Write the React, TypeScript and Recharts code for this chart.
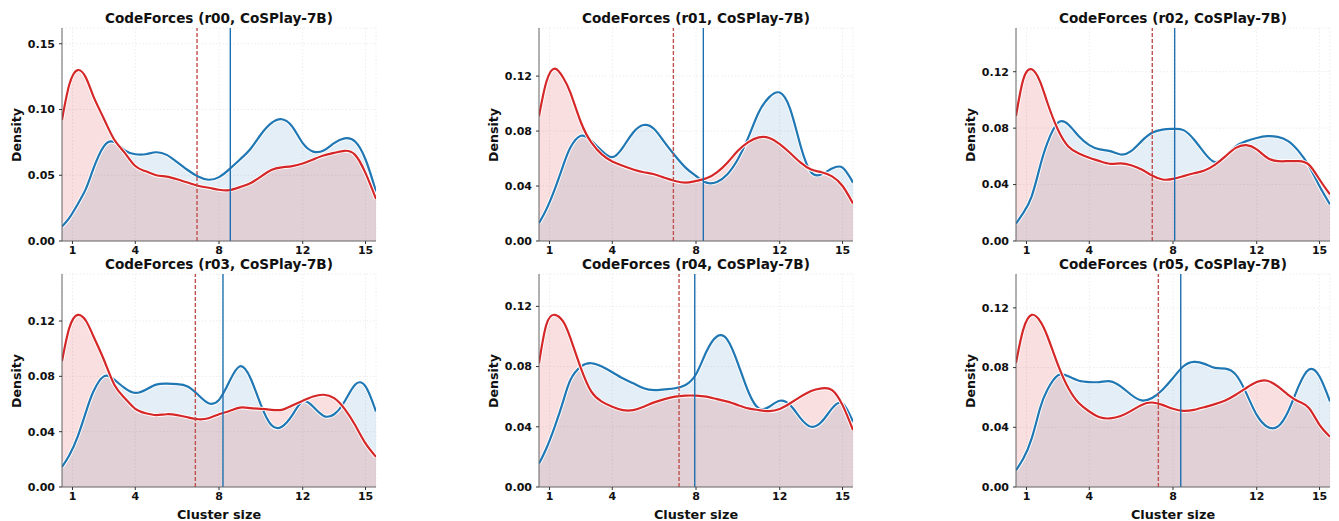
import React from 'react';
import { ComposedChart, Area, Line, XAxis, YAxis, CartesianGrid, ReferenceLine } from 'recharts';

// cluster sizes where each KDE curve is sampled
const sizes = [
  0.5, 0.85, 1.25, 1.65, 2, 2.5, 3, 3.5, 4, 4.5, 5, 5.5, 6, 6.5, 7, 7.5,
  8, 8.5, 9, 9.5, 10, 10.5, 11, 11.5, 12, 12.5, 13, 13.5, 14, 14.5, 15, 15.5,
];
const xTicks = [1, 4, 8, 12, 15];

const runIds = ['r00', 'r01', 'r02', 'r03', 'r04', 'r05'];

const blueR00 = [0.011, 0.0175, 0.028, 0.04, 0.055, 0.072, 0.0752, 0.069, 0.066, 0.066, 0.0675, 0.0655, 0.06, 0.054, 0.049, 0.0466, 0.0486, 0.0547, 0.062, 0.07, 0.081, 0.0896, 0.0926, 0.087, 0.0744, 0.068, 0.0688, 0.0744, 0.078, 0.0757, 0.062, 0.0377];
const redR00 = [0.092, 0.119, 0.13, 0.124, 0.11, 0.093, 0.077, 0.067, 0.057, 0.053, 0.05, 0.049, 0.047, 0.0445, 0.042, 0.0405, 0.039, 0.0387, 0.041, 0.044, 0.049, 0.054, 0.056, 0.057, 0.059, 0.062, 0.065, 0.067, 0.0686, 0.0655, 0.0516, 0.032];

const blueR01 = [0.013, 0.023, 0.0376, 0.0547, 0.068, 0.0766, 0.073, 0.0656, 0.061, 0.068, 0.079, 0.0844, 0.0815, 0.0717, 0.062, 0.0534, 0.0473, 0.0425, 0.043, 0.0486, 0.0595, 0.0754, 0.0937, 0.1047, 0.108, 0.096, 0.069, 0.05, 0.0486, 0.0527, 0.0534, 0.0425];
const redR01 = [0.0908, 0.1157, 0.1254, 0.119, 0.108, 0.0864, 0.0717, 0.063, 0.0578, 0.0547, 0.052, 0.05, 0.0486, 0.046, 0.0437, 0.0425, 0.0437, 0.0456, 0.05, 0.057, 0.0656, 0.072, 0.0754, 0.075, 0.0705, 0.064, 0.057, 0.052, 0.05, 0.047, 0.04, 0.0273];

const blueR02 = [0.0123, 0.02, 0.0317, 0.053, 0.0696, 0.0838, 0.0826, 0.0743, 0.068, 0.0649, 0.0637, 0.0613, 0.0637, 0.0708, 0.0767, 0.079, 0.0795, 0.0786, 0.072, 0.0625, 0.056, 0.06, 0.067, 0.0708, 0.073, 0.0743, 0.0738, 0.0708, 0.0637, 0.053, 0.0388, 0.026];
const redR02 = [0.0885, 0.1146, 0.1217, 0.113, 0.098, 0.079, 0.067, 0.062, 0.059, 0.0566, 0.0547, 0.055, 0.0537, 0.0507, 0.0464, 0.0436, 0.044, 0.046, 0.048, 0.05, 0.054, 0.06, 0.066, 0.068, 0.065, 0.059, 0.0566, 0.0566, 0.0566, 0.054, 0.0436, 0.033];

const blueR03 = [0.0145, 0.023, 0.0364, 0.0545, 0.069, 0.08, 0.0776, 0.0715, 0.068, 0.0703, 0.074, 0.0747, 0.0744, 0.0727, 0.0667, 0.0606, 0.063, 0.0764, 0.0873, 0.0788, 0.0594, 0.0448, 0.0436, 0.052, 0.0618, 0.058, 0.0514, 0.0526, 0.0618, 0.074, 0.0727, 0.0545];
const redR03 = [0.0909, 0.115, 0.1244, 0.12, 0.109, 0.092, 0.074, 0.0642, 0.0565, 0.0533, 0.052, 0.0526, 0.052, 0.0504, 0.049, 0.0497, 0.0526, 0.055, 0.0574, 0.057, 0.0565, 0.0558, 0.0558, 0.0589, 0.0623, 0.0654, 0.0667, 0.0642, 0.0565, 0.0448, 0.0315, 0.0218];

const blueR04 = [0.0156, 0.0256, 0.04, 0.0567, 0.0711, 0.08, 0.0822, 0.08, 0.0762, 0.0722, 0.0689, 0.0656, 0.0644, 0.0649, 0.0656, 0.0678, 0.0749, 0.09, 0.1, 0.0978, 0.0822, 0.0633, 0.0522, 0.0533, 0.0573, 0.0544, 0.0456, 0.04, 0.0433, 0.0522, 0.0556, 0.0433];
const redR04 = [0.0822, 0.1078, 0.1144, 0.11, 0.0989, 0.0789, 0.0633, 0.0567, 0.0533, 0.0511, 0.0511, 0.0533, 0.0562, 0.0584, 0.06, 0.0607, 0.0607, 0.06, 0.0584, 0.0567, 0.0544, 0.0522, 0.0511, 0.0504, 0.0518, 0.0556, 0.06, 0.0638, 0.0655, 0.0644, 0.0544, 0.0378];

const blueR05 = [0.0112, 0.0191, 0.0326, 0.0528, 0.0652, 0.0748, 0.0742, 0.0712, 0.0703, 0.0703, 0.0708, 0.0674, 0.0618, 0.058, 0.0596, 0.0652, 0.073, 0.0809, 0.0838, 0.0825, 0.0798, 0.0793, 0.0753, 0.0629, 0.0483, 0.0404, 0.0404, 0.0506, 0.0674, 0.0787, 0.074, 0.0573];
const redR05 = [0.0831, 0.1056, 0.1153, 0.1112, 0.101, 0.082, 0.0663, 0.0562, 0.0506, 0.0467, 0.046, 0.0476, 0.051, 0.055, 0.0566, 0.055, 0.0524, 0.051, 0.0517, 0.0535, 0.0555, 0.058, 0.0618, 0.0663, 0.0703, 0.0712, 0.0674, 0.0618, 0.0573, 0.0528, 0.0416, 0.0337];

const blueSeries = [blueR00, blueR01, blueR02, blueR03, blueR04, blueR05];
const redSeries = [redR00, redR01, redR02, redR03, redR04, redR05];

// mean cluster size markers
const blueMeans = [8.54, 8.35, 8.08, 8.19, 7.94, 8.37];
const redMeans = [6.95, 6.92, 7.01, 6.87, 7.19, 7.3];

const yMaxes = [0.162, 0.155, 0.151, 0.154, 0.1415, 0.1427];
const yTickSets = [
  [0, 0.05, 0.1, 0.15],
  [0, 0.04, 0.08, 0.12],
  [0, 0.04, 0.08, 0.12],
  [0, 0.04, 0.08, 0.12],
  [0, 0.04, 0.08, 0.12],
  [0, 0.04, 0.08, 0.12],
];

const BLUE = '#1f77b4';
const RED = '#d62728';
const FONT = '"DejaVu Sans", sans-serif';

const PLOT_W = 314;
const PLOT_H = 213;
const AXIS_W = 60;
const colLefts = [62, 539, 1016];
const rowTops = [28, 274];

const tickStyle = { fontSize: 11, fontWeight: 700, fill: '#111', fontFamily: FONT };

const Panel: React.FC<{ idx: number }> = ({ idx }) => {
  const left = colLefts[idx % 3];
  const top = rowTops[Math.floor(idx / 3)];
  const bottomRow = idx >= 3;
  const data = sizes.map((x, i) => ({ x, blue: blueSeries[idx][i], red: redSeries[idx][i] }));

  return (
    <>
      <div
        style={{
          position: 'absolute', left: left - 20, top: top - 18, width: PLOT_W + 40, textAlign: 'center',
          fontFamily: FONT, fontWeight: 700, fontSize: 13.6, lineHeight: '17px', color: '#111',
        }}
      >
        {`CodeForces (${runIds[idx]}, CoSPlay-7B)`}
      </div>
      <div
        style={{
          position: 'absolute', left: left - 46, top: top + PLOT_H / 2,
          transform: 'translate(-50%, -50%) rotate(-90deg)', whiteSpace: 'nowrap',
          fontFamily: FONT, fontWeight: 700, fontSize: 12.6, color: '#111',
        }}
      >
        Density
      </div>
      {bottomRow && (
        <div
          style={{
            position: 'absolute', left, top: top + PLOT_H + 20, width: PLOT_W, textAlign: 'center',
            fontFamily: FONT, fontWeight: 700, fontSize: 12.8, lineHeight: '16px', color: '#111',
          }}
        >
          Cluster size
        </div>
      )}
      <div style={{ position: 'absolute', left: left - AXIS_W, top: top - 10 }}>
        <ComposedChart
          width={AXIS_W + PLOT_W + 6}
          height={10 + PLOT_H + 24}
          data={data}
          margin={{ top: 10, right: 6, bottom: 0, left: 0 }}
        >
          <CartesianGrid stroke="#ececec" strokeDasharray="1.5 2" />
          <XAxis
            dataKey="x"
            type="number"
            domain={[0.5, 15.5]}
            ticks={xTicks}
            allowDataOverflow
            height={24}
            tick={tickStyle}
            tickSize={3}
            tickMargin={2}
            axisLine={{ stroke: '#666' }}
            tickLine={{ stroke: '#333' }}
          />
          <YAxis
            type="number"
            domain={[0, yMaxes[idx]]}
            ticks={yTickSets[idx]}
            allowDataOverflow
            width={AXIS_W}
            tick={tickStyle}
            tickSize={3}
            tickMargin={4}
            tickFormatter={(v: number) => v.toFixed(2)}
            axisLine={{ stroke: '#666' }}
            tickLine={{ stroke: '#333' }}
          />
          <Area type="natural" dataKey="blue" stroke="none" fill={BLUE} fillOpacity={0.12} isAnimationActive={false} />
          <Area type="natural" dataKey="red" stroke="none" fill={RED} fillOpacity={0.15} isAnimationActive={false} />
          <Line type="natural" dataKey="blue" stroke="#fff" strokeWidth={4} dot={false} activeDot={false} isAnimationActive={false} />
          <Line type="natural" dataKey="blue" stroke={BLUE} strokeWidth={2.2} dot={false} activeDot={false} isAnimationActive={false} />
          <Line type="natural" dataKey="red" stroke="#fff" strokeWidth={4} dot={false} activeDot={false} isAnimationActive={false} />
          <Line type="natural" dataKey="red" stroke={RED} strokeWidth={2.2} dot={false} activeDot={false} isAnimationActive={false} />
          <ReferenceLine x={redMeans[idx]} stroke="#c0504d" strokeWidth={1.4} strokeDasharray="4 2" />
          <ReferenceLine x={blueMeans[idx]} stroke="#1f6fae" strokeWidth={1.4} />
        </ComposedChart>
      </div>
    </>
  );
};

export default function App() {
  return (
    <div style={{ position: 'absolute', left: 0, top: 0, width: 1339, height: 521, background: '#fff' }}>
      {runIds.map((_, i) => (
        <Panel key={i} idx={i} />
      ))}
    </div>
  );
}
